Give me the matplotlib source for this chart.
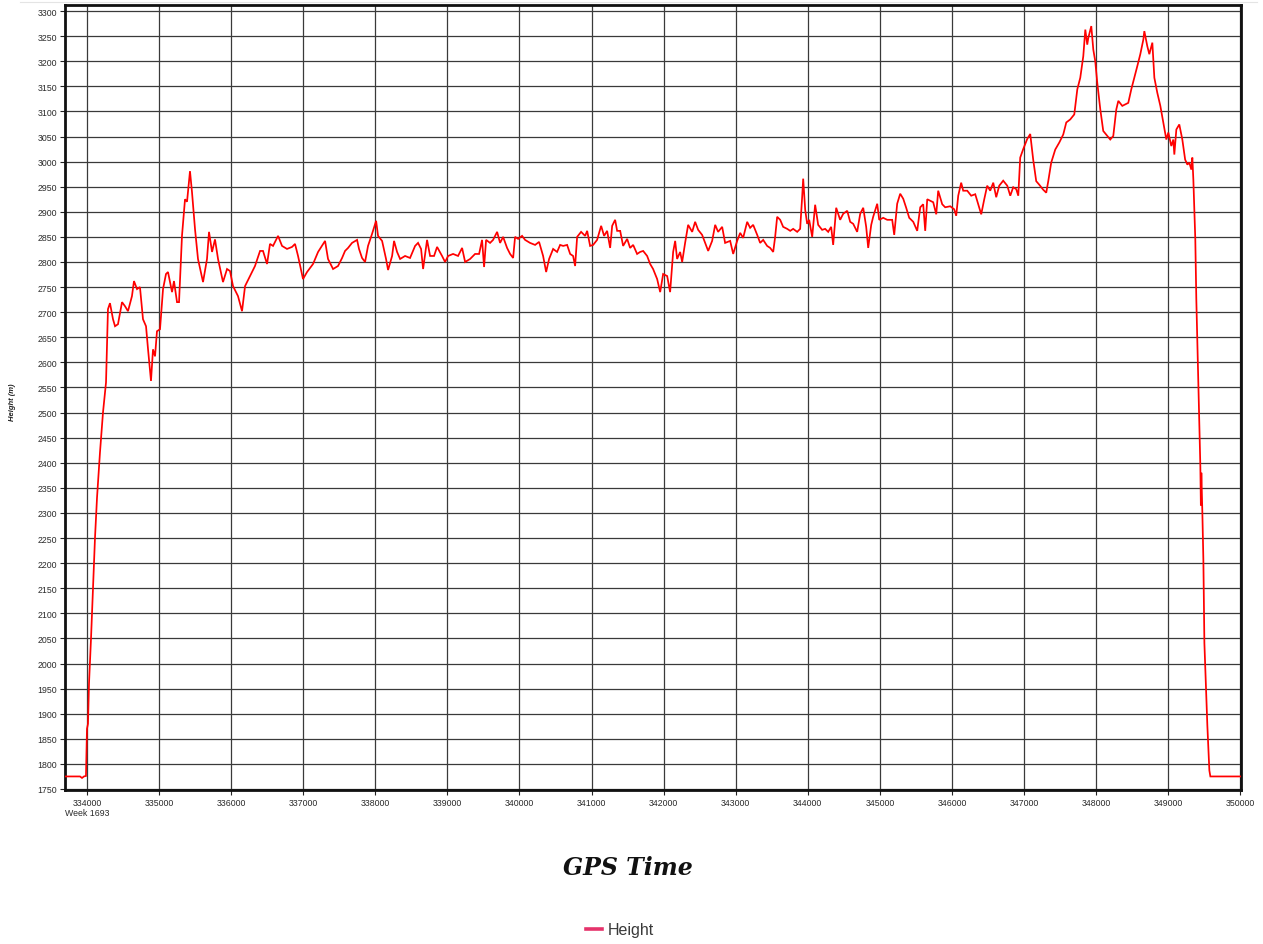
import matplotlib
matplotlib.use("Agg")
import matplotlib.pyplot as plt
from matplotlib.lines import Line2D
import numpy as np

# GPS time of week (s) and receiver height (m)
gps_time = [
    333700, 333903, 333931, 333958, 333986, 334000, 334014, 334028, 334056, 334083,
    334111, 334139, 334180, 334222, 334264, 334291, 334319, 334361, 334389, 334430,
    334486, 334527, 334569, 334624, 334652, 334694, 334735, 334777, 334819, 334847,
    334888, 334916, 334944, 334971, 335013, 335055, 335096, 335124, 335180, 335207,
    335249, 335277, 335318, 335360, 335388, 335429, 335457, 335499, 335540, 335610,
    335665, 335693, 335735, 335776, 335818, 335887, 335943, 335984, 336026, 336095,
    336151, 336193, 336262, 336331, 336401, 336442, 336498, 336539, 336581, 336651,
    336706, 336775, 336845, 336886, 336928, 336997, 337053, 337136, 337206, 337303,
    337344, 337414, 337483, 337539, 337580, 337622, 337677, 337747, 337774, 337816,
    337858, 337899, 337955, 338011, 338038, 338094, 338149, 338177, 338233, 338260,
    338302, 338344, 338413, 338482, 338552, 338593, 338635, 338663, 338718, 338760,
    338815, 338857, 338926, 338968, 339010, 339079, 339148, 339204, 339246, 339315,
    339384, 339440, 339481, 339509, 339537, 339592, 339634, 339690, 339731, 339773,
    339828, 339870, 339912, 339939, 339981, 340036, 340078, 340147, 340217, 340272,
    340328, 340370, 340411, 340467, 340522, 340564, 340606, 340661, 340703, 340744,
    340772, 340800, 340855, 340911, 340939, 340980, 341022, 341077, 341133, 341174,
    341216, 341258, 341286, 341327, 341355, 341397, 341438, 341494, 341535, 341577,
    341632, 341674, 341716, 341771, 341813, 341854, 341910, 341952, 341993, 342049,
    342090, 342132, 342160, 342187, 342229, 342257, 342298, 342340, 342396, 342437,
    342479, 342534, 342576, 342618, 342673, 342715, 342756, 342812, 342853, 342923,
    342965, 343020, 343062, 343103, 343159, 343200, 343242, 343298, 343339, 343381,
    343436, 343478, 343520, 343547, 343575, 343617, 343658, 343714, 343756, 343797,
    343853, 343894, 343922, 343936, 343964, 343991, 344019, 344061, 344102, 344144,
    344199, 344241, 344283, 344324, 344352, 344394, 344449, 344491, 344547, 344588,
    344630, 344685, 344727, 344769, 344810, 344838, 344880, 344907, 344963, 344991,
    345046, 345102, 345171, 345199, 345240, 345282, 345324, 345365, 345407, 345463,
    345518, 345560, 345601, 345629, 345657, 345698, 345740, 345782, 345809, 345865,
    345906, 345976, 346031, 346059, 346087, 346128, 346156, 346212, 346267, 346323,
    346364, 346406, 346448, 346489, 346531, 346573, 346614, 346656, 346711, 346767,
    346809, 346850, 346892, 346920, 346947, 346989, 347044, 347086, 347127, 347169,
    347211, 347266, 347308, 347336, 347377, 347433, 347489, 347544, 347586, 347641,
    347697, 347739, 347780, 347822, 347850, 347877, 347891, 347933, 347961, 347988,
    348016, 348058, 348099, 348155, 348196, 348238, 348280, 348308, 348363, 348405,
    348446, 348488, 348530, 348571, 348613, 348655, 348669, 348710, 348738, 348780,
    348808, 348849, 348891, 348932, 348974, 349002, 349043, 349071, 349085, 349113,
    349154, 349196, 349235, 349266, 349293, 349321, 349335, 349349, 349376, 349390,
    349418, 349446, 349453, 349460, 349474, 349488, 349502, 349543, 349571, 349585,
    350030,
]

height = [
    1775, 1775, 1772, 1775, 1776, 1870, 1880, 1960, 2050, 2150,
    2250, 2330, 2420, 2500, 2560, 2706, 2718, 2686, 2672, 2676,
    2720, 2712, 2702, 2732, 2762, 2746, 2750, 2686, 2672, 2626,
    2563, 2626, 2612, 2662, 2666, 2746, 2776, 2780, 2740, 2762,
    2720, 2720, 2852, 2925, 2920, 2981, 2939, 2865, 2806, 2760,
    2806, 2860, 2820, 2845, 2806, 2760, 2786, 2782, 2752, 2732,
    2702, 2752, 2772, 2792, 2822, 2822, 2796, 2836, 2832, 2852,
    2832, 2826, 2830, 2836, 2812, 2766, 2780, 2796, 2820, 2842,
    2806, 2786, 2792, 2808, 2822, 2828, 2838, 2844, 2826, 2808,
    2800, 2832, 2856, 2882, 2852, 2842, 2806, 2784, 2812, 2842,
    2820, 2806, 2812, 2808, 2832, 2838, 2826, 2786, 2844, 2812,
    2812, 2830, 2812, 2800, 2812, 2816, 2812, 2828, 2800, 2806,
    2816, 2816, 2844, 2790, 2844, 2838, 2844, 2860, 2838, 2850,
    2828, 2816, 2808, 2850, 2846, 2852, 2844, 2838, 2834, 2840,
    2812, 2780, 2806, 2826, 2820, 2834, 2832, 2834, 2816, 2812,
    2792, 2850, 2860, 2852, 2862, 2832, 2834, 2844, 2872, 2852,
    2862, 2828, 2872, 2884, 2862, 2862, 2832, 2846, 2828, 2834,
    2816, 2820, 2822, 2812, 2796, 2786, 2766, 2740, 2776, 2772,
    2740, 2820, 2842, 2806, 2820, 2800, 2838, 2874, 2860, 2880,
    2864, 2854, 2838, 2822, 2842, 2874, 2860, 2870, 2838, 2842,
    2816, 2842, 2858, 2848, 2880, 2868, 2874, 2854, 2838, 2844,
    2832, 2828, 2820, 2850, 2890, 2884, 2870, 2866, 2862, 2866,
    2860, 2866, 2930, 2966, 2904, 2876, 2884, 2850, 2914, 2874,
    2864, 2866, 2860, 2870, 2834, 2908, 2884, 2896, 2902, 2880,
    2876, 2860, 2896, 2908, 2870, 2828, 2874, 2890, 2916, 2884,
    2888, 2884, 2884, 2854, 2916, 2936, 2926, 2908, 2888, 2880,
    2862, 2909, 2915, 2862, 2925, 2922, 2919, 2895, 2942, 2915,
    2909, 2911, 2905, 2892, 2932, 2958, 2942, 2942, 2932, 2935,
    2915, 2895, 2925, 2952, 2942, 2958, 2929, 2952, 2962, 2952,
    2932, 2949, 2945, 2932, 3008, 3025, 3045, 3055, 3004, 2961,
    2954, 2944, 2938, 2961, 2998, 3024, 3038, 3054, 3078, 3084,
    3094, 3144, 3167, 3210, 3263, 3233, 3246, 3270, 3223, 3200,
    3157, 3104, 3061, 3051, 3044, 3051, 3104, 3121, 3111, 3114,
    3117, 3144, 3167, 3190, 3214, 3243, 3260, 3230, 3214, 3237,
    3167, 3137, 3111, 3078, 3044, 3058, 3031, 3044, 3014, 3064,
    3074, 3044, 3004, 2994, 2998, 2984, 3008, 2964, 2845, 2726,
    2560, 2393, 2315, 2380, 2300, 2206, 2041, 1877, 1787, 1775,
    1775,
]

x_ticks = list(range(334000, 350001, 1000))
y_ticks = list(range(1750, 3301, 50))

W, H = 1263, 945
fig = plt.figure(figsize=(W / 100, H / 100), dpi=100)
fig.patch.set_facecolor("white")

# plot area in pixel units
left_px, right_px, top_px, bottom_px = 65, 1241, 6, 791
ax = fig.add_axes([left_px / W, 1 - bottom_px / H,
                   (right_px - left_px) / W, (bottom_px - top_px) / H])

ax.plot(gps_time, height, color="#ff0000", lw=1.25, solid_joinstyle="miter", zorder=3)

ax.set_xlim(333695, 350010)
ax.set_ylim(1748, 3312)
ax.set_xticks(x_ticks)
ax.set_yticks(y_ticks)
ax.set_xticklabels([str(v) for v in x_ticks])
ax.set_yticklabels([str(v) for v in y_ticks])

tick_family = ["Liberation Sans", "DejaVu Sans"]
for lab in ax.get_xticklabels() + ax.get_yticklabels():
    lab.set_fontfamily(tick_family)
    lab.set_fontsize(6.3)
    lab.set_color("#2a2a2a")
ax.tick_params(axis="both", direction="out", length=3.5, width=0.8,
               color="#222222", pad=2)

ax.grid(True, color="#3a3a3a", lw=0.9, zorder=1)
ax.set_axisbelow(True)
for side in ["left", "right", "top", "bottom"]:
    ax.spines[side].set_linewidth(2.0)
    ax.spines[side].set_color("#111111")

ax.set_ylabel("Height (m)", fontsize=5.5, fontweight="bold", fontstyle="italic",
              family=tick_family, color="#222222")
ax.yaxis.set_label_coords((16 - left_px) / (right_px - left_px), 0.4955)

ax.set_xlabel("GPS Time", fontsize=17, fontweight="bold", fontstyle="italic",
              family=["DejaVu Serif"], color="#111111")
ax.xaxis.set_label_coords((628 - left_px) / (right_px - left_px),
                          (bottom_px - 856) / (bottom_px - top_px))

fig.text(left_px / W, 1 - 814 / H, "Week 1693", ha="left", va="center",
         fontsize=6.3, family=tick_family, color="#2a2a2a")

# faint outer frame
fig.add_artist(Line2D([20 / W, 1257 / W], [1 - 3 / H, 1 - 3 / H],
                      color="#e4e4e4", lw=0.8, transform=fig.transFigure))

handle = Line2D([], [], color="#e5336b", lw=2.6)
leg = fig.legend([handle], ["Height"], loc="center",
                 bbox_to_anchor=(620 / W, 1 - 931 / H), frameon=False,
                 handlelength=1.0, handletextpad=0.35,
                 prop=dict(family=tick_family, size=11.5))
for t in leg.get_texts():
    t.set_color("#3a3a3a")

fig.savefig("out.png", dpi=100, facecolor="white")
